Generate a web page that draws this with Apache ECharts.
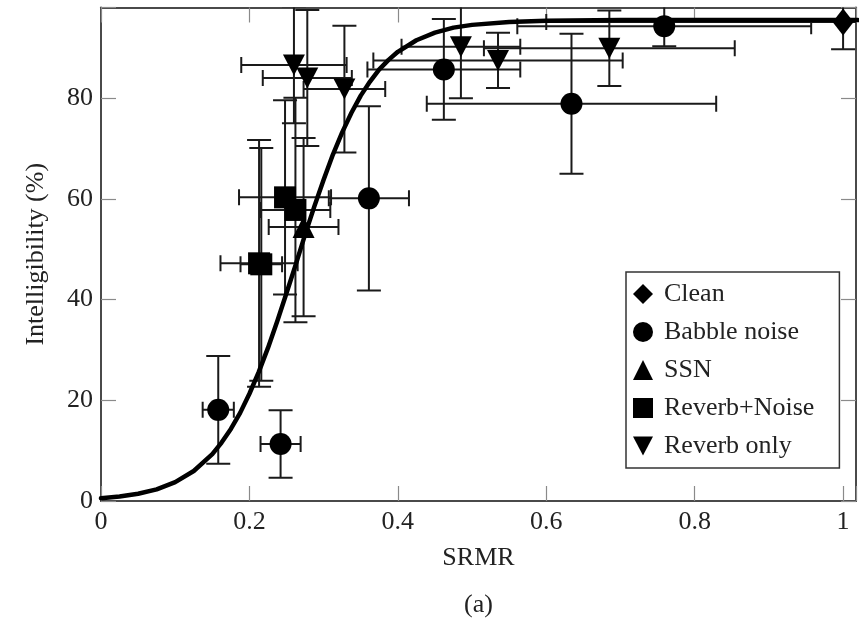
<!DOCTYPE html>
<html>
<head>
<meta charset="utf-8">
<script src="https://cdn.jsdelivr.net/npm/echarts@6/dist/echarts.min.js"></script>
<style>
  html, body { margin: 0; padding: 0; background: #fff; }
  #chart { width: 859px; height: 623px; }
</style>
</head>
<body>
<div id="chart"></div>
<script>
// Intelligibility vs. SRMR, one array set per condition.
// Each point: SRMR, intelligibility (%), SRMR error, intelligibility error.
const cleanSrmr  = [1.000];
const cleanIntel = [95.1];
const cleanSrmrErr  = [0.400];
const cleanIntelErr = [5.4];

const babbleSrmr  = [0.158, 0.242, 0.361, 0.462, 0.634, 0.759];
const babbleIntel = [18.1, 11.3, 60.1, 85.7, 78.9, 94.3];
const babbleSrmrErr  = [0.021, 0.027, 0.054, 0.103, 0.195, 0.198];
const babbleIntelErr = [10.7, 6.7, 18.3, 10.0, 13.9, 4.0];

const ssnSrmr  = [0.273];
const ssnIntel = [54.4];
const ssnSrmrErr  = [0.047];
const ssnIntelErr = [17.7];

const revNoiseSrmr  = [0.248, 0.262, 0.213, 0.216];
const revNoiseIntel = [60.3, 57.8, 47.2, 47.0];
const revNoiseSrmrErr  = [0.062, 0.047, 0.052, 0.028];
const revNoiseIntelErr = [19.3, 22.3, 24.5, 23.1];

const revOnlySrmr  = [0.260, 0.278, 0.328, 0.485, 0.535, 0.685];
const revOnlyIntel = [86.6, 84.0, 81.8, 90.2, 87.5, 89.9];
const revOnlySrmrErr  = [0.071, 0.060, 0.055, 0.080, 0.168, 0.169];
const revOnlyIntelErr = [11.6, 13.5, 12.6, 10.2, 5.5, 7.5];

// Fitted psychometric curve, sampled along SRMR
const fitSrmr  = [0, 0.025, 0.05, 0.075, 0.1, 0.125, 0.15, 0.1625, 0.175, 0.1875, 0.2, 0.2125, 0.225, 0.2375, 0.25, 0.2625, 0.275, 0.2875, 0.3, 0.3125, 0.325, 0.3375, 0.35, 0.3625, 0.375, 0.3875, 0.4, 0.425, 0.45, 0.475, 0.5, 0.55, 0.6, 0.7, 0.8, 0.9, 1.0, 1.02];
const fitIntel = [0.55, 0.9, 1.45, 2.3, 3.75, 5.95, 9.3, 11.6, 14.3, 17.5, 21.3, 25.6, 30.4, 35.7, 41.3, 47.0, 52.9, 58.5, 63.8, 68.8, 73.2, 77.1, 80.5, 83.3, 85.7, 87.6, 89.2, 91.5, 93.0, 94.0, 94.55, 95.1, 95.35, 95.5, 95.5, 95.5, 95.5, 95.5];

// Axis ticks
const xTicks = [0, 0.2, 0.4, 0.6, 0.8, 1];
const yTicks = [0, 20, 40, 60, 80];

const legendNames = ['Clean', 'Babble noise', 'SSN', 'Reverb+Noise', 'Reverb only'];

const SERIF = '"Liberation Serif", "DejaVu Serif", serif';
const INK = '#000';
const BAR = '#1a1a1a';
const FRAME = '#4a4a4a';
const TICK = '#8a8a8a';

function zip(a, b) { return a.map((v, i) => [v, b[i]]); }
function zip4(a, b, c, d) { return a.map((v, i) => [v, b[i], c[i], d[i]]); }

function isTick(list, v) { return list.some(t => Math.abs(t - v) < 1e-6); }

// Draws horizontal and vertical error bars with end caps
function renderErr(params, api) {
  const x = api.value(0), y = api.value(1), ex = api.value(2), ey = api.value(3);
  const c = api.coord([x, y]);
  const l = api.coord([x - ex, y]);
  const r = api.coord([x + ex, y]);
  const t = api.coord([x, y + ey]);
  const b = api.coord([x, y - ey]);
  const capH = 8, capW = 12;
  const style = { stroke: BAR, lineWidth: 2, fill: null };
  const seg = (x1, y1, x2, y2) => ({ type: 'line', shape: { x1, y1, x2, y2 }, style });
  return {
    type: 'group',
    children: [
      seg(l[0], c[1], r[0], c[1]),
      seg(l[0], c[1] - capH, l[0], c[1] + capH),
      seg(r[0], c[1] - capH, r[0], c[1] + capH),
      seg(c[0], t[1], c[0], b[1]),
      seg(c[0] - capW, t[1], c[0] + capW, t[1]),
      seg(c[0] - capW, b[1], c[0] + capW, b[1])
    ]
  };
}

function errSeries(name, xs, ys, exs, eys) {
  return {
    name: name + ' error',
    type: 'custom',
    renderItem: renderErr,
    data: zip4(xs, ys, exs, eys),
    clip: true,
    z: 3,
    silent: true
  };
}

function markSeries(name, xs, ys, symbol, size) {
  return {
    name: name,
    type: 'scatter',
    data: zip(xs, ys),
    symbol: symbol,
    symbolSize: size,
    itemStyle: { color: INK, opacity: 1 },
    clip: true,
    z: 5
  };
}

const DOWN_TRI = 'path://M0,0L20,0L10,19Z';

const chart = echarts.init(document.getElementById('chart'), null, { renderer: 'canvas' });

const axisCommon = {
  axisLine: { show: true, onZero: false, lineStyle: { color: FRAME, width: 2 } },
  axisTick: { show: true, inside: true, length: 15, lineStyle: { color: TICK, width: 1.2 } },
  splitLine: { show: false }
};

chart.setOption({
  animation: false,
  backgroundColor: '#fff',
  grid: { left: 101, top: 7.5, right: -2, bottom: 122, containLabel: false },
  xAxis: [
    Object.assign({
      type: 'value', position: 'bottom', min: 0, max: 1.0174, interval: 0.2,
      name: 'SRMR', nameLocation: 'middle', nameGap: 44,
      nameTextStyle: { fontFamily: SERIF, fontSize: 26, color: '#222' },
      axisLabel: {
        margin: 8, fontFamily: SERIF, fontSize: 26, color: '#222',
        formatter: v => isTick(xTicks, v) ? String(+v.toFixed(1)) : ''
      }
    }, axisCommon),
    Object.assign({
      type: 'value', position: 'top', min: 0, max: 1.0174, interval: 0.2,
      axisLabel: { show: false }
    }, axisCommon)
  ],
  yAxis: [
    Object.assign({
      type: 'value', position: 'left', min: 0, max: 98, interval: 20,
      name: 'Intelligibility (%)', nameLocation: 'middle', nameGap: 52, nameRotate: 90,
      nameTextStyle: { fontFamily: SERIF, fontSize: 26, color: '#222' },
      axisLabel: {
        margin: 8, fontFamily: SERIF, fontSize: 26, color: '#222',
        formatter: v => isTick(yTicks, v) ? String(v) : ''
      }
    }, axisCommon),
    Object.assign({
      type: 'value', position: 'right', min: 0, max: 98, interval: 20,
      axisLabel: { show: false }
    }, axisCommon)
  ],
  legend: {
    data: legendNames,
    orient: 'vertical',
    left: 626, top: 272,
    padding: [9, 25, 9, 7],
    itemGap: 12,
    itemWidth: 20, itemHeight: 20,
    backgroundColor: '#fff',
    borderColor: '#333', borderWidth: 1.5, borderRadius: 0,
    textStyle: { fontFamily: SERIF, fontSize: 26, color: '#222', padding: [0, 0, 0, 6] },
    selectedMode: false
  },
  graphic: [{
    type: 'text', left: 464, top: 592,
    style: { text: '(a)', fontFamily: SERIF, fontSize: 26, fill: '#222' }
  }],
  series: [
    errSeries('Clean', cleanSrmr, cleanIntel, cleanSrmrErr, cleanIntelErr),
    errSeries('Babble noise', babbleSrmr, babbleIntel, babbleSrmrErr, babbleIntelErr),
    errSeries('SSN', ssnSrmr, ssnIntel, ssnSrmrErr, ssnIntelErr),
    errSeries('Reverb+Noise', revNoiseSrmr, revNoiseIntel, revNoiseSrmrErr, revNoiseIntelErr),
    errSeries('Reverb only', revOnlySrmr, revOnlyIntel, revOnlySrmrErr, revOnlyIntelErr),
    {
      name: 'Fit',
      type: 'line',
      data: zip(fitSrmr, fitIntel),
      smooth: false,
      showSymbol: false,
      lineStyle: { color: INK, width: 4.5, join: 'round', cap: 'round' },
      clip: true,
      z: 4,
      silent: true
    },
    markSeries('Clean', cleanSrmr, cleanIntel, 'diamond', [21, 27]),
    markSeries('Babble noise', babbleSrmr, babbleIntel, 'circle', 22),
    markSeries('SSN', ssnSrmr, ssnIntel, 'triangle', 22),
    markSeries('Reverb+Noise', revNoiseSrmr, revNoiseIntel, 'rect', 22),
    markSeries('Reverb only', revOnlySrmr, revOnlyIntel, DOWN_TRI, [22, 21])
  ]
});
</script>
</body>
</html>
